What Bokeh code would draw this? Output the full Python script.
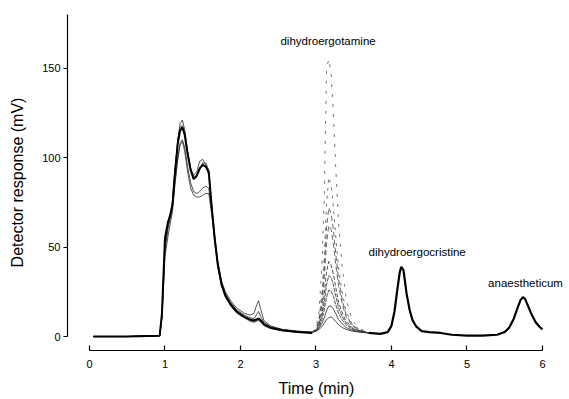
from bokeh.plotting import figure
from bokeh.models import Range1d, FixedTicker
from bokeh.core.properties import value
from bokeh.embed import file_html
from bokeh.resources import INLINE

# ---------------- data ----------------
# Segment A: solvent front region, 0 - 2.95 min (several runs)
t_front = [0.05, 0.5, 0.93, 0.96, 1.00, 1.04, 1.07, 1.10, 1.13, 1.17, 1.20, 1.23, 1.26, 1.30,
           1.34, 1.38, 1.42, 1.46, 1.50, 1.54, 1.58, 1.62, 1.66, 1.70, 1.75, 1.80, 1.87, 1.95,
           2.05, 2.13, 2.18, 2.21, 2.24, 2.27, 2.31, 2.40, 2.55, 2.75, 2.95]
front_run1 = [0, 0, 0.5, 12, 50, 62, 67, 75, 92, 110, 119, 121, 116, 104, 94, 90, 92, 98, 99, 96,
              90, 72, 56, 42, 31, 25, 20, 16, 13, 12, 13, 17, 20, 15, 9, 6, 4, 3, 2.5]
front_run2 = [0, 0, 0.5, 13, 55, 64, 68, 74, 90, 108, 115, 117, 113, 102, 93, 88, 90, 94, 96, 95,
              92, 72, 54, 40, 29, 23, 18, 14, 11, 9.5, 9, 9.5, 10, 9, 7, 5, 3.5, 2.5, 2]
front_run3 = [0, 0, 0.5, 12, 52, 63, 68, 76, 93, 110, 117, 118, 114, 103, 94, 89, 89, 93, 97, 97,
              93, 73, 55, 41, 30, 24, 19, 15, 12, 10.5, 10, 12, 14, 11, 8, 5.5, 4, 3, 2.5]
front_run4 = [0, 0, 0.5, 11, 48, 60, 66, 72, 86, 100, 108, 110, 106, 95, 86, 81, 80, 81, 83, 84,
              83, 70, 54, 40, 29, 23, 18, 14, 11, 9, 8.5, 9, 9.5, 8.5, 6.5, 4.5, 3.5, 2.5, 2]
front_run5 = [0, 0, 0.5, 10, 45, 56, 63, 70, 84, 99, 107, 109, 104, 92, 83, 79, 78, 78, 79, 80,
              80, 68, 53, 39, 28, 22, 17, 13, 10.5, 8.5, 8, 8.5, 9, 8, 6, 4.5, 3.2, 2.5, 2]

# Segment B: dihydroergotamine peak, 2.95 - 3.70 min (one trace per run)
t_dhe = [2.95, 3.00, 3.04, 3.08, 3.11, 3.14, 3.17, 3.20, 3.23, 3.26, 3.30, 3.35, 3.40, 3.48, 3.58, 3.70]
dhe_run1 = [2.5, 3, 4, 5.5, 7.5, 9.5, 10.5, 11, 10, 8.5, 6.5, 5, 4, 3, 2.5, 2]
dhe_run2 = [2.5, 3, 4.5, 7.5, 10.5, 14.5, 17, 17, 15.5, 13, 9.5, 7, 5, 3.5, 2.5, 2]
dhe_run3 = [2.5, 3, 5, 9.5, 15, 22, 26, 25.5, 22.5, 18, 13, 9, 6.5, 4, 3, 2]
dhe_run4 = [2.5, 3.2, 6, 12, 19, 29, 34, 33, 29, 23, 16, 11, 7.5, 4.5, 3, 2]
dhe_run5 = [2.5, 3.5, 7, 14, 24, 36, 42, 40, 35, 28, 19, 13, 8.5, 5, 3, 2]
dhe_run6 = [2.5, 3.5, 8, 18, 33, 52, 62, 60, 52, 41, 28, 18, 11, 6, 3.5, 2]
dhe_run7 = [2.5, 4, 9, 21, 38, 61, 72, 69, 60, 47, 32, 20, 12, 6.5, 3.5, 2]
dhe_run8 = [2.5, 4, 10, 25, 46, 74, 89, 85, 73, 57, 38, 24, 14, 7, 4, 2]
dhe_run9 = [2.5, 5, 14, 40, 78, 150, 155, 147, 125, 96, 63, 38, 21, 9, 4.5, 2]

# Segment C: dihydroergocristine and anaestheticum, 3.70 - 6.00 min (runs coincide)
t_tail = [3.70, 3.85, 3.95, 4.00, 4.04, 4.08, 4.11, 4.13, 4.16, 4.20, 4.24, 4.28, 4.33, 4.40,
          4.50, 4.65, 4.80, 5.00, 5.20, 5.40, 5.50, 5.56, 5.62, 5.67, 5.71, 5.74, 5.77, 5.81,
          5.86, 5.91, 5.96, 6.00]
tail_signal = [2, 1.5, 2.5, 6, 14, 27, 36, 39, 37, 24, 15, 9, 5.5, 3, 2.5, 2, 1, 0.5, 0.5, 1,
               2.5, 5, 10, 16, 20.5, 22, 21, 17, 12, 8, 5.5, 4]

# Peak labels
peak_names = ["dihydroergotamine", "dihydroergocristine", "anaestheticum"]
peak_label_x = [3.16, 4.34, 5.28]
peak_label_y = [165, 47.5, 30]

x_ticks = [0, 1, 2, 3, 4, 5, 6]
y_ticks = [0, 50, 100, 150]

# ---------------- figure ----------------
p = figure(width=565, height=399, output_backend="svg", toolbar_location=None,
           x_range=Range1d(-0.291, 6.305), y_range=Range1d(-7.8, 180),
           min_border_left=67, min_border_top=14, min_border_right=0, min_border_bottom=48)
p.outline_line_color = None
p.xgrid.visible = False
p.ygrid.visible = False
p.background_fill_color = "white"
p.border_fill_color = "white"

FONT = "Liberation Sans"

xa = p.xaxis[0]
xa.ticker = FixedTicker(ticks=x_ticks)
xa.bounds = (0, 6)
xa.major_tick_in = 5
xa.major_tick_out = 0
xa.minor_tick_line_color = None
xa.axis_line_width = 1.2
xa.major_tick_line_width = 1.2
xa.major_label_text_font = FONT
xa.major_label_text_font_size = "11px"
xa.major_label_text_color = "black"
xa.major_label_standoff = 9
xa.axis_label = "Time (min)"
xa.axis_label_text_font = FONT
xa.axis_label_text_font_size = "16px"
xa.axis_label_text_font_style = "normal"
xa.axis_label_text_color = "black"
xa.axis_label_standoff = 9

ya = p.yaxis[0]
ya.ticker = FixedTicker(ticks=y_ticks)
ya.bounds = (0, 180)
ya.major_tick_in = 0
ya.major_tick_out = 4
ya.minor_tick_line_color = None
ya.axis_line_width = 1.2
ya.major_tick_line_width = 1.2
ya.major_label_text_font = FONT
ya.major_label_text_font_size = "11px"
ya.major_label_text_color = "black"
ya.major_label_standoff = 3
ya.axis_label = "Detector response (mV)"
ya.axis_label_text_font = FONT
ya.axis_label_text_font_size = "16px"
ya.axis_label_text_font_style = "normal"
ya.axis_label_text_color = "black"
ya.axis_label_standoff = 13

# ---------------- traces ----------------
thin = "#2a2a2a"
for run in [front_run1, front_run3, front_run4, front_run5]:
    p.line(t_front, run, line_color=thin, line_width=0.8)
p.line(t_front, front_run2, line_color="black", line_width=2)

dhe_runs = [dhe_run1, dhe_run2, dhe_run3, dhe_run4, dhe_run5, dhe_run6, dhe_run7, dhe_run8, dhe_run9]
dashes = ["solid", "solid", "4 1", "4 1", "4 2", "5 3", "5 3", "3 5", "3 7"]
colors = [thin, thin, thin, thin, thin, "#444444", "#444444", "#555555", "#555555"]
for run, dash, col in zip(dhe_runs, dashes, colors):
    p.line(t_dhe, run, line_color=col, line_width=0.8, line_dash=dash)

p.line(t_tail, tail_signal, line_color="black", line_width=2.2)

p.text(x=peak_label_x[:2], y=peak_label_y[:2], text=peak_names[:2],
       text_font=value(FONT), text_font_size="11.5px", text_align="center",
       text_baseline="middle", text_color="black")
p.text(x=peak_label_x[2:], y=peak_label_y[2:], text=peak_names[2:],
       text_font=value(FONT), text_font_size="11.5px", text_align="left",
       text_baseline="middle", text_color="black")

open("out.html", "w").write(file_html(p, INLINE))
